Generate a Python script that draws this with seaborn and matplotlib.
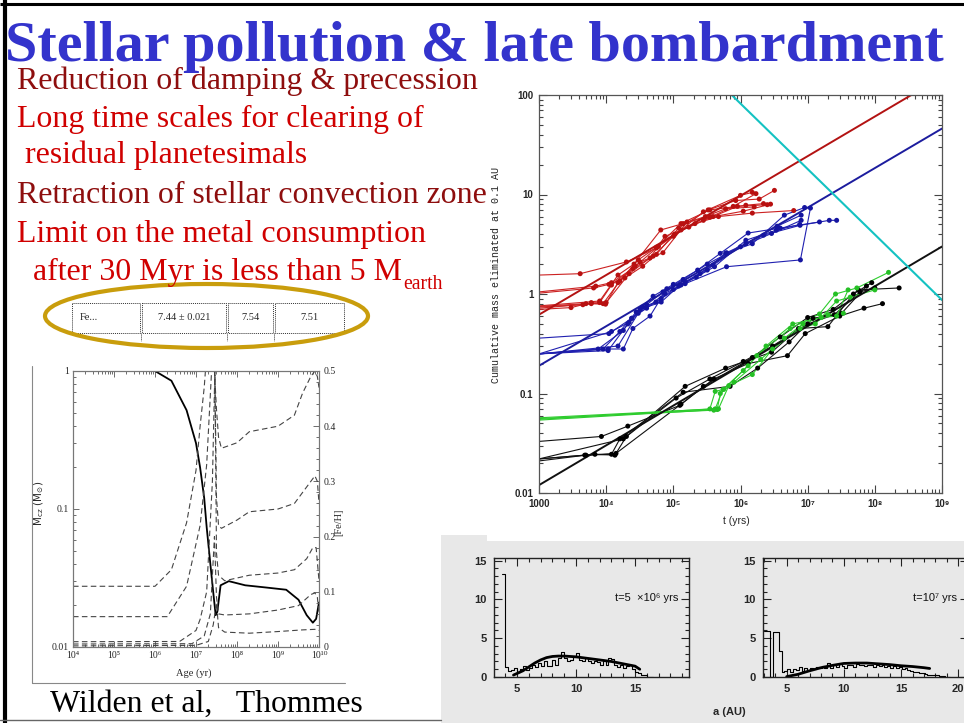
import numpy as np
import pandas as pd
import matplotlib
matplotlib.use("Agg")
import matplotlib.pyplot as plt
import seaborn as sns
from matplotlib.patches import Rectangle, Ellipse
from matplotlib.ticker import FixedLocator, MultipleLocator, NullFormatter, LogLocator

# ---------------- top-right panel: cumulative mass eliminated at 0.1 AU ----------------
red_t = [
    [1e3, 4.1e3, 2e4, 5.6e4, 1.3e5, 2.8e5, 7.8e5, 1.7e6],
    [1e3, 7e3, 1.2e4, 2.5e4, 5e4, 1e5, 2.8e5, 1e6, 1.5e6],
    [1e3, 5e3, 9.8e3, 1.5e4, 3e4, 5.6e4, 1.3e5, 3.5e5, 1.2e6, 2.2e6],
    [1e3, 6e3, 1e4, 2.2e4, 4.5e4, 7.5e4, 1.7e5, 3.9e5, 9e5, 2.5e6],
    [1e3, 4.5e3, 8e3, 1.2e4, 2.7e4, 6e4, 1.05e5, 2.1e5, 4.7e5, 1.5e6, 6.2e6],
    [1e3, 6.5e3, 1.1e4, 1.9e4, 3.5e4, 5.6e4, 1.2e5, 3.3e5, 8.5e5, 1.9e6, 3.2e6],
    [1e3, 3e3, 6e3, 9e3, 1.6e4, 3.2e4, 7e4, 1.6e5, 3.5e5, 1.1e6, 2.8e6],
    [1e3, 8e3, 1.5e4, 2.6e4, 6.5e4, 1.4e5, 3e5, 6e5, 1.6e6],
]
red_m = [
    [1.55, 1.6, 2.1, 2.9, 4.4, 5.5, 7.6, 10.2],
    [1.05, 1.2, 1.3, 1.8, 2.4, 3.8, 6.7, 9.8, 10.5],
    [0.75, 0.8, 0.79, 1.3, 2.2, 2.95, 5.1, 7.0, 7.8, 8.1],
    [0.72, 0.8, 0.82, 1.6, 2.3, 3.8, 4.7, 6.0, 7.6, 7.9],
    [0.74, 0.78, 0.82, 1.23, 1.9, 3.0, 4.0, 5.1, 6.0, 6.5, 6.9],
    [1.02, 1.15, 1.25, 1.45, 1.9, 2.5, 4.6, 7.0, 8.7, 9.0, 11.0],
    [0.7, 0.73, 0.82, 0.8, 1.35, 2.1, 2.6, 5.3, 5.9, 6.8, 8.0],
    [0.76, 0.85, 1.55, 2.0, 4.4, 5.1, 6.0, 7.2, 7.5],
]
blue_t = [
    [1e3, 7.6e3, 1.8e4, 2.4e4, 4e4, 7.4e4, 1.3e5, 3.2e5, 6e5, 1.5e6, 4.5e6, 9e6],
    [1e3, 1.07e4, 1.8e4, 2.5e4, 4.5e4, 8e4, 1.5e5, 3.9e5, 1e6, 2.9e6, 8e6],
    [1e3, 1.1e4, 2.4e4, 3.5e4, 5.5e4, 1e5, 2.5e5, 6.2e5, 2.2e6, 7.7e6, 2.1e7, 2.7e7],
    [1e3, 1.07e4, 2.1e4, 3.2e4, 6.6e4, 1.2e5, 2.2e5, 4.1e5, 1.2e6, 3.4e6, 7.6e6],
    [1e3, 1.5e4, 3e4, 6.6e4, 1.5e5, 6.2e5, 7.8e6, 1.1e7],
    [1e3, 9e3, 1.6e4, 2.8e4, 5e4, 1e5, 2.3e5, 5e5, 1.3e6, 3.9e6, 1.5e7],
    [1e3, 1.2e4, 2.2e4, 4e4, 7e4, 1.4e5, 3.2e5, 1.2e6, 3.5e6, 8e6],
]
blue_m = [
    [0.25, 0.28, 0.43, 0.57, 0.72, 1.01, 1.23, 1.74, 2.56, 3.2, 6.2, 7.4],
    [0.25, 0.28, 0.28, 0.45, 0.60, 1.13, 1.32, 1.95, 2.98, 4.06, 5.5],
    [0.36, 0.40, 0.57, 0.74, 0.83, 1.11, 1.6, 2.6, 3.9, 4.9, 5.5, 5.5],
    [0.25, 0.27, 0.5, 0.70, 0.83, 1.2, 1.48, 1.88, 3.47, 4.37, 5.0],
    [0.25, 0.30, 0.64, 0.9, 1.27, 1.88, 2.2, 7.3],
    [0.25, 0.28, 0.42, 0.66, 0.95, 1.25, 1.74, 2.56, 4.1, 4.6, 5.3],
    [0.25, 0.42, 0.52, 0.78, 1.05, 1.4, 2.0, 3.2, 4.8, 6.2],
]
black_t = [
    [1e3, 8.5e3, 2.1e4, 1.25e5, 2.8e5, 1.5e6, 3.9e6, 1e7, 2.4e7, 5.7e7, 2.3e8],
    [1e3, 4.8e3, 1.2e4, 1.6e4, 1.4e5, 7e5, 1.8e6, 5.3e6, 1.2e7, 3.2e7, 7.5e7],
    [1e3, 6.8e3, 1.35e4, 2e4, 1.5e5, 6e5, 2.9e6, 7.3e6, 2e7, 4.8e7, 9e7],
    [1e3, 5e3, 1.4e4, 1.3e5, 4e5, 1.3e6, 5e6, 9.2e6, 3e7, 6.9e7, 1.3e8],
    [1e3, 1.8e4, 1.1e5, 3.5e5, 1.1e6, 3e6, 1e7, 2.5e7, 6e7, 1e8],
]
black_m = [
    [0.033, 0.037, 0.047, 0.076, 0.118, 0.23, 0.37, 0.58, 0.7, 1.1, 1.15],
    [0.022, 0.024, 0.0245, 0.035, 0.103, 0.118, 0.18, 0.33, 0.57, 0.64, 1.2],
    [0.022, 0.0245, 0.024, 0.037, 0.118, 0.18, 0.26, 0.45, 0.47, 1.0, 1.3],
    [0.021, 0.024, 0.025, 0.078, 0.14, 0.2, 0.24, 0.4, 0.6, 0.72, 0.8],
    [0.022, 0.035, 0.09, 0.14, 0.21, 0.3, 0.5, 0.62, 1.05, 1.15],
]
green_t = [
    [1e3, 3.5e5, 4.2e5, 5.6e5, 1.3e6, 1.75e6, 5.5e6, 1.5e7, 2.6e7, 5.4e7, 1.6e8],
    [1e3, 4e5, 4.7e5, 6.7e5, 1.5e6, 3e6, 7.7e6, 1.3e7, 2.7e7, 4.3e7, 1e8],
    [1e3, 4.5e5, 5e5, 8e5, 2e6, 4.5e6, 8.5e6, 2e7, 3.4e7],
    [1e3, 4.2e5, 5.5e5, 1.1e6, 2.4e6, 6e6, 1.6e7, 2.7e7, 4e7],
]
green_m = [
    [0.055, 0.07, 0.105, 0.11, 0.19, 0.24, 0.45, 0.63, 1.0, 1.15, 1.65],
    [0.056, 0.068, 0.07, 0.12, 0.155, 0.28, 0.45, 0.5, 0.85, 0.93, 1.1],
    [0.054, 0.069, 0.1, 0.13, 0.22, 0.36, 0.5, 0.62, 0.64],
    [0.057, 0.07, 0.11, 0.17, 0.3, 0.5, 0.58, 0.6, 1.1],
]
# power-law fits (end points) and the cyan limit line
fit_t = [1e3, 1e9]
fit_red_m = [0.62, 152]
fit_blue_m = [0.19, 46]
fit_black_m = [0.012, 3.0]
limit_t = [7.4e5, 1e9]
limit_m = [100, 0.87]
main_xticks = [1e3, 1e4, 1e5, 1e6, 1e7, 1e8, 1e9]
main_xlabels = ["1000", "10⁴", "10⁵", "10⁶", "10⁷", "10⁸", "10⁹"]
main_yticks = [0.01, 0.1, 1, 10, 100]
main_ylabels = ["0.01", "0.1", "1", "10", "100"]

# ---------------- bottom-left panel: convection-zone mass and [Fe/H] ----------------
solid_logage = [4, 6.0, 6.4, 6.77, 7.0, 7.1, 7.2, 7.26, 7.35, 7.42, 7.48, 7.52, 7.6, 7.8,
                8.2, 8.7, 9.2, 9.5, 9.7, 9.85, 9.93, 10.0]
solid_mcz = [1, 1, 0.85, 0.52, 0.3, 0.2, 0.12, 0.074, 0.04, 0.025, 0.017, 0.018, 0.028, 0.03,
             0.028, 0.027, 0.026, 0.022, 0.017, 0.015, 0.016, 0.021]
feh_logage = [
    [4, 6.0, 6.4, 6.77, 7.0, 7.1, 7.2, 7.28, 7.35, 7.45, 7.5, 7.55, 7.62, 8.0, 8.3, 9.0, 9.4, 9.6, 9.8, 9.9, 9.96, 10.0],
    [4, 6.3, 6.77, 7.1, 7.26, 7.38, 7.45, 7.5, 7.55, 7.62, 8.0, 8.3, 9.0, 9.4, 9.6, 9.8, 9.9, 9.96, 10.0],
    [4, 6.6, 7.0, 7.1, 7.26, 7.4, 7.46, 7.5, 7.55, 7.7, 8.3, 9.0, 9.4, 9.7, 9.85, 9.93, 10.0],
    [4, 6.9, 7.2, 7.35, 7.45, 7.5, 7.55, 7.7, 8.3, 9.0, 9.5, 9.8, 9.9, 9.96, 10.0],
    [4, 7.0, 7.3, 7.42, 7.5, 7.55, 7.7, 8.3, 9.0, 9.6, 9.9, 10.0],
]
feh_value = [
    [0.11, 0.11, 0.14, 0.225, 0.32, 0.40, 0.47, 0.55, 0.6, 0.5, 0.43, 0.38, 0.36, 0.37, 0.39, 0.40, 0.42, 0.46, 0.49, 0.5, 0.49, 0.47],
    [0.055, 0.055, 0.11, 0.22, 0.33, 0.5, 0.55, 0.27, 0.22, 0.215, 0.23, 0.245, 0.25, 0.26, 0.28, 0.30, 0.31, 0.30, 0.26],
    [0.0096, 0.01, 0.03, 0.05, 0.1, 0.3, 0.5, 0.17, 0.13, 0.12, 0.13, 0.134, 0.14, 0.16, 0.18, 0.18, 0.12],
    [0.0054, 0.006, 0.02, 0.06, 0.2, 0.09, 0.06, 0.058, 0.06, 0.067, 0.075, 0.095, 0.098, 0.09, 0.06],
    [0.002, 0.003, 0.01, 0.04, 0.08, 0.035, 0.027, 0.025, 0.028, 0.031, 0.032, 0.03],
]
age_xticks = [1e4, 1e5, 1e6, 1e7, 1e8, 1e9, 1e10]
age_xlabels = ["10⁴", "10⁵", "10⁶", "10⁷", "10⁸", "10⁹", "10¹⁰"]

# ---------------- bottom-right panels: semi-major axis distributions ----------------
bin_width = 0.25
hist1_start = 3.75
hist1_counts = [13.3, 1.3, 0.8, 0.9, 1.2, 0.6, 1.0, 1.4, 0.9, 1.2, 1.5, 1.3, 1.8, 1.4, 2.0, 1.4,
                1.4, 2.2, 1.6, 2.4, 3.2, 2.4, 2.0, 2.2, 2.6, 3.1, 2.2, 2.0, 2.4, 2.1, 1.8, 2.0,
                1.9, 1.6, 2.0, 1.5, 2.4, 2.3, 1.6, 1.3, 1.6, 1.2, 1.4, 1.5, 1.0, 0.6, 0.5, 0.3,
                0.2, 0.05, 0.0]
hist1_fit_a = [4.7, 5.5, 6, 6.5, 7, 7.5, 8, 8.5, 9, 10, 11, 12, 13, 14, 15, 15.4]
hist1_fit_n = [0.25, 0.8, 1.3, 1.8, 2.2, 2.5, 2.65, 2.7, 2.7, 2.6, 2.4, 2.2, 2.0, 1.7, 1.4, 1.0]
hist2_start = 3.05
hist2_counts = [5.9, 5.9, 0.0, 5.8, 5.8, 3.3, 0.7, 0.8, 1.0, 0.7, 1.0, 0.9, 1.3, 0.8, 1.1, 0.9,
                1.2, 1.0, 1.3, 1.2, 1.4, 1.1, 1.8, 1.2, 1.6, 1.3, 1.7, 1.4, 1.2, 1.5, 1.6, 1.3,
                1.7, 1.5, 1.6, 1.4, 1.6, 1.5, 1.3, 1.6, 1.4, 1.5, 1.3, 1.4, 1.2, 1.4, 1.1, 1.3,
                1.0, 1.1, 0.9, 0.8, 0.7, 0.6, 0.5, 0.5, 0.4, 0.3, 0.3, 0.2, 0.2, 0.1, 0.1, 0.05,
                0.0]
hist2_fit_a = [5.0, 6, 7, 8, 9, 10, 11, 12, 13, 14, 15, 16, 17, 17.5]
hist2_fit_n = [0.05, 0.35, 0.8, 1.2, 1.5, 1.75, 1.8, 1.8, 1.7, 1.6, 1.45, 1.35, 1.2, 1.1]

# ---------------- slide text ----------------
title = "Stellar pollution & late bombardment"
bullet_lines = ["Reduction of damping & precession",
                "Long time scales for clearing of",
                " residual planetesimals",
                "Retraction of stellar convection zone",
                "Limit on the metal consumption",
                "  after 30 Myr is less than 5 M"]
table_cells = ["Fe...", "7.44 ± 0.021", "7.54", "7.51"]
credit = "Wilden et al,   Thommes"

# ---------------------------------------------------------------------
W, H = 964, 723
sns.set_theme(style="ticks")
plt.rcParams["font.family"] = ["Liberation Sans", "DejaVu Sans"]
plt.rcParams["axes.linewidth"] = 0.9

fig = plt.figure(figsize=(W / 100, H / 100), dpi=100)
fig.patch.set_facecolor("white")


def box(x0, y0, x1, y1):
    return [x0 / W, 1 - y1 / H, (x1 - x0) / W, (y1 - y0) / H]


# full-figure canvas in pixel units for the slide decorations and text
bg = fig.add_axes([0, 0, 1, 1], zorder=0)
bg.set_xlim(0, W)
bg.set_ylim(H, 0)
bg.axis("off")

# slide frame
bg.plot([0, W], [4, 4], color="black", lw=2.2, solid_capstyle="butt")
bg.plot([5, 5], [0, H], color="black", lw=3.0, solid_capstyle="butt")
bg.plot([0, 441], [720, 720], color="#666666", lw=1.0)
# grey backdrop of the distribution panels
bg.add_patch(Rectangle((441, 541), W - 441, H - 541, color="#e8e8e8", lw=0))
bg.add_patch(Rectangle((441, 535), 46, 7, color="#e8e8e8", lw=0))
# frame of the left figure
bg.plot([32, 32], [366, 683], color="#888888", lw=0.8)
bg.plot([32, 345], [683, 683], color="#888888", lw=0.8)

renderer = fig.canvas.get_renderer()
SERIF = ["Liberation Serif", "DejaVu Serif"]


def fit_text(x, y, s, width, **kw):
    t = bg.text(x, y, s, fontsize=20, va="baseline", ha="left", **kw)
    w = t.get_window_extent(renderer).width
    t.set_fontsize(20 * width / w)
    return t


fit_text(5, 61, title, 940, family=SERIF, weight="bold", color="#3333CC", zorder=5)

dark_red, bright_red = "#8E0E0E", "#D00000"
ref = bg.text(0, 0, bullet_lines[3], fontsize=20, family=SERIF)
body_size = 20 * 469 / ref.get_window_extent(renderer).width
ref.remove()
baselines = [89, 127, 163, 203, 242, 280]
xs = [17, 17, 17, 17, 17, 17]
colors = [dark_red, bright_red, bright_red, dark_red, bright_red, bright_red]
last = None
for s, yb, xx, c in zip(bullet_lines, baselines, xs, colors):
    last = bg.text(xx, yb, s, fontsize=body_size, family=SERIF, color=c, va="baseline", zorder=6)
ext = last.get_window_extent(renderer)
bg.text(ext.x1 + 1, 289, "earth", fontsize=body_size * 0.62, family=SERIF, color=bright_red,
        va="baseline")

# abundance table with dotted cell borders
cell_x = [72, 141, 227, 274, 345]
for i in range(4):
    x0, x1 = cell_x[i] + (1 if i else 0), cell_x[i + 1] - 1
    bg.add_patch(Rectangle((x0, 303), x1 - x0, 30, fill=False, ls=(0, (1, 1)), lw=0.7,
                           edgecolor="#333333"))
for xx in cell_x[1:4]:
    bg.plot([xx, xx], [333, 341], color="#333333", ls=(0, (1, 1)), lw=0.7)
bg.text(80, 318, table_cells[0], family=SERIF, fontsize=7.5, va="center", ha="left")
for i in range(1, 4):
    bg.text((cell_x[i] + cell_x[i + 1]) / 2, 318, table_cells[i], family=SERIF, fontsize=7.5,
            va="center", ha="center")
bg.add_patch(Ellipse((206.5, 316), 323, 64, fill=False, edgecolor="#C99D0C", lw=3.0))

fit_text(50, 712, credit, 313, family=SERIF, color="black")

# ---------------- top-right: cumulative mass plot ----------------
rows = []
for name, ts, ms in [("red", red_t, red_m), ("blue", blue_t, blue_m),
                     ("black", black_t, black_m), ("green", green_t, green_m)]:
    for i, (tt, mm) in enumerate(zip(ts, ms)):
        for a, b in zip(tt, mm):
            rows.append({"set": name, "run": f"{name}{i}", "t": a, "m": b, "dot": a > 1000})
df = pd.DataFrame(rows)
line_pal = {"red": "#CC2222", "blue": "#2020B0", "green": "#2DCC2D", "black": "#111111"}
dot_pal = {"red": "#B81010", "blue": "#1515A0", "green": "#25C025", "black": "#000000"}

ax = fig.add_axes(box(539, 95, 942, 493), zorder=2)
ax.set_xscale("log")
ax.set_yscale("log")
sns.lineplot(data=df, x="t", y="m", hue="set", units="run", estimator=None, sort=False,
             palette=line_pal, lw=0.8, legend=False, ax=ax)
sns.scatterplot(data=df[df["dot"]], x="t", y="m", hue="set", palette=dot_pal, s=13,
                linewidth=0, legend=False, ax=ax, zorder=3)
sns.lineplot(x=fit_t, y=fit_red_m, color="#B31212", lw=1.4, ax=ax)
sns.lineplot(x=fit_t, y=fit_blue_m, color="#1C1C9E", lw=1.4, ax=ax)
sns.lineplot(x=fit_t, y=fit_black_m, color="#111111", lw=1.4, ax=ax)
sns.lineplot(x=limit_t, y=limit_m, color="#14C2C2", lw=1.5, ax=ax)
ax.set_xlim(1e3, 1e9)
ax.set_ylim(0.01, 100)
ax.xaxis.set_major_locator(FixedLocator(main_xticks))
ax.set_xticklabels(main_xlabels)
ax.yaxis.set_major_locator(FixedLocator(main_yticks))
ax.set_yticklabels(main_ylabels)
ax.xaxis.set_minor_locator(LogLocator(base=10, subs=np.arange(2, 10)))
ax.yaxis.set_minor_locator(LogLocator(base=10, subs=np.arange(2, 10)))
ax.xaxis.set_minor_formatter(NullFormatter())
ax.yaxis.set_minor_formatter(NullFormatter())
ax.tick_params(which="both", direction="in", top=True, right=True, bottom=True, left=True,
               color="#444444", width=0.8)
ax.tick_params(which="major", length=6, labelsize=7, pad=4)
ax.tick_params(which="minor", length=3)
for lab in ax.get_xticklabels() + ax.get_yticklabels():
    lab.set_fontweight("bold")
for sp in ax.spines.values():
    sp.set_color("#555555")
ax.set_xlabel("t (yrs)", fontsize=7.5)
ax.xaxis.set_label_coords(0.49, -0.058)
ax.set_ylabel("Cumulative mass eliminated at 0.1 AU", family=["Liberation Mono", "DejaVu Sans Mono"],
              fontsize=7.2, color="#222222")
ax.yaxis.set_label_coords(-0.095, 0.548)

# ---------------- bottom-left: convection zone mass and [Fe/H] ----------------
axL = fig.add_axes(box(73, 371, 319, 647), zorder=2)
axL.set_xscale("log")
axL.set_yscale("log")
sns.lineplot(x=10 ** np.array(solid_logage), y=solid_mcz, color="black", lw=1.3, ax=axL)
axL.set_xlim(1e4, 1e10)
axL.set_ylim(0.01, 1)
axR = axL.twinx()
for la, fv in zip(feh_logage, feh_value):
    sns.lineplot(x=10 ** np.array(la), y=fv, color="#444444", lw=0.8, ls=(0, (5, 3)), ax=axR)
axR.set_ylim(0, 0.5)
axR.set_xlim(1e4, 1e10)
axL.xaxis.set_major_locator(FixedLocator(age_xticks))
axL.set_xticklabels(age_xlabels)
axL.yaxis.set_major_locator(FixedLocator([0.01, 0.1, 1]))
axL.set_yticklabels(["0.01", "0.1", "1"])
axL.xaxis.set_minor_locator(LogLocator(base=10, subs=np.arange(2, 10)))
axL.yaxis.set_minor_locator(LogLocator(base=10, subs=np.arange(2, 10)))
axL.xaxis.set_minor_formatter(NullFormatter())
axL.yaxis.set_minor_formatter(NullFormatter())
axR.yaxis.set_major_locator(FixedLocator([0, 0.1, 0.2, 0.3, 0.4, 0.5]))
axR.set_yticklabels(["0", "0.1", "0.2", "0.3", "0.4", "0.5"])
axR.yaxis.set_minor_locator(MultipleLocator(0.02))
for a in (axL, axR):
    a.tick_params(which="both", direction="in", color="#555555", width=0.6)
    a.tick_params(which="major", length=4, labelsize=7, pad=3)
    a.tick_params(which="minor", length=2)
    for sp in a.spines.values():
        sp.set_color("#777777")
        sp.set_linewidth(0.8)
axL.tick_params(which="both", top=True, bottom=True, left=True, right=False)
axR.tick_params(which="both", right=True, left=False)
for lab in axL.get_xticklabels() + axL.get_yticklabels() + axR.get_yticklabels():
    lab.set_family(SERIF)
axL.set_xlabel("Age (yr)", family=SERIF, fontsize=7.5)
axL.xaxis.set_label_coords(0.49, -0.076)
axL.set_ylabel(r"$\mathrm{M_{cz}\ (M_{\odot})}$", fontsize=7.5)
axL.yaxis.set_label_coords(-0.11, 0.52)
axR.set_ylabel("[Fe/H]", family=SERIF, fontsize=7.5, rotation=90)
axR.yaxis.set_label_coords(1.06, 0.45)


# ---------------- bottom-right: semi-major axis histograms ----------------
def draw_hist(rect, start, counts, fit_a, fit_n, xlim, label):
    axh = fig.add_axes(box(*rect), zorder=2)
    axh.set_facecolor("none")
    edges = start + bin_width * np.arange(len(counts) + 1)
    hdf = pd.DataFrame({"a": (edges[:-1] + edges[1:]) / 2, "n": counts})
    sns.histplot(data=hdf, x="a", weights="n", bins=list(edges), element="step", fill=False,
                 color="black", lw=0.8, ax=axh)
    sns.lineplot(x=fit_a, y=fit_n, color="black", lw=2.0, ax=axh)
    axh.set_xlim(*xlim)
    axh.set_ylim(0, 15.35)
    axh.xaxis.set_major_locator(FixedLocator([5, 10, 15, 20]))
    axh.yaxis.set_major_locator(FixedLocator([0, 5, 10, 15]))
    axh.xaxis.set_minor_locator(MultipleLocator(1))
    axh.yaxis.set_minor_locator(MultipleLocator(1))
    axh.tick_params(which="both", direction="in", top=True, right=True, color="#222222",
                    width=0.8)
    axh.tick_params(which="major", length=6, labelsize=8, pad=5)
    axh.tick_params(which="minor", length=3)
    for lab in axh.get_xticklabels() + axh.get_yticklabels():
        lab.set_fontweight("bold")
    for sp in axh.spines.values():
        sp.set_color("#222222")
        sp.set_linewidth(1.0)
    axh.set_xlabel("")
    axh.set_ylabel("")
    axh.text(0.945, 0.66, label, transform=axh.transAxes, ha="right", va="center",
             fontsize=8, color="#111111")
    return axh


draw_hist((494, 558, 689, 677), hist1_start, hist1_counts, hist1_fit_a, hist1_fit_n,
          (3.05, 19.57), "t=5  ×10⁶ yrs")
draw_hist((763, 558, 968, 677), hist2_start, hist2_counts, hist2_fit_a, hist2_fit_n,
          (2.93, 20.85), "t=10⁷ yrs")
bg.text(729, 712, "a (AU)", fontsize=8, fontweight="bold", ha="center", va="center")

fig.savefig("out.png", dpi=100, facecolor="white")
